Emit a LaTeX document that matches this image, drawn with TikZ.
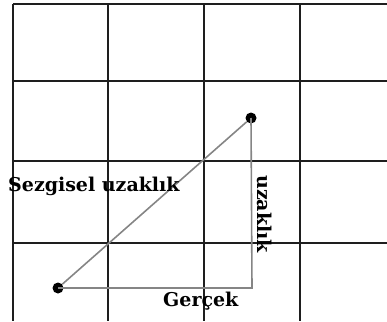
\documentclass[tikz,border=0pt]{standalone}
\usepackage{fontspec}
\setmainfont{DejaVu Serif}
\usetikzlibrary{positioning}
\definecolor{gridBlack}{HTML}{1E1E1E}
\definecolor{pathGray}{HTML}{858585}
\tikzset{
    gridline/.style={draw=gridBlack, line width=1.6pt},
    pathline/.style={draw=pathGray, line width=1.6pt},
    dot/.style={circle, fill=black, inner sep=0pt, minimum size=11pt},
    distlbl/.style={font=\bfseries\fontsize{19}{22}\selectfont, inner sep=0pt},
}

\begin{document}
\begin{tikzpicture}[x=1pt,y=-1pt]
  \useasboundingbox (0,0) rectangle (387,321);

  % grid
  \foreach \gx in {13,108,204,300}
    \draw[gridline] (\gx,4) -- (\gx,321);
  \foreach \gy in {4,81,161,243}
    \draw[gridline] (13,\gy) -- (387,\gy);

  % start and goal
  \node[dot] (start) at (58,288) {};
  \node[dot] (goal)  at (251,118) {};
  \coordinate (corner) at (252,288);

  % heuristic and real distance
  \draw[pathline] (start) -- (goal);
  \draw[pathline] (start.center) -- (corner) -- (goal.center);

  % labels
  \node[distlbl, anchor=base west] (hLbl) at (8,191) {Sezgisel uzaklık};
  \node[distlbl, anchor=base west] (gLbl) at (163,306) {Gerçek};
  \node[distlbl, anchor=base west, rotate=-90] (uLbl) at (257,175) {uzaklık};
\end{tikzpicture}
\end{document}
